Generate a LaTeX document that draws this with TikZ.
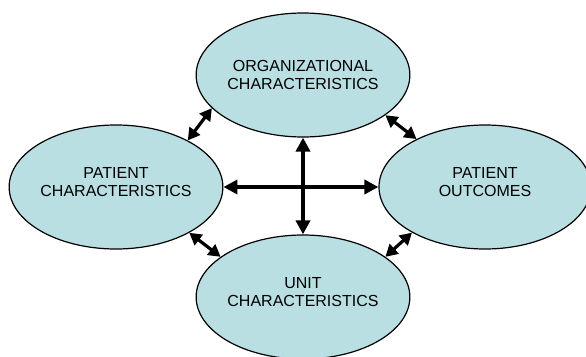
\documentclass[tikz,border=0pt]{standalone}
\usepackage{fontspec}
\setmainfont{Liberation Sans}
\usetikzlibrary{shapes.geometric,arrows.meta}
\definecolor{celeste}{RGB}{185,223,227}

\begin{document}
\begin{tikzpicture}[
			x=1pt, y=-1pt,
			ovale/.style={ellipse, draw=black, fill=celeste, line width=1.2pt, inner sep=0pt,
				minimum width=212pt, minimum height=124pt, align=center,
				font=\fontsize{16}{18}\selectfont},
			alto/.style={text depth=10pt},
			asse/.style={line width=3.6pt, {Triangle[length=14pt,width=14pt]}-{Triangle[length=14pt,width=14pt]}},
			legame/.style={line width=3.2pt, {Triangle[length=12pt,width=13pt]}-{Triangle[length=12pt,width=13pt]}},
			]
			
			\useasboundingbox (0,0) rectangle (586,356);
			
			%% ── ellissi ────────────────────────────────────────────
			\node[ovale]      (org)  at (303,75)  {ORGANIZATIONAL\\CHARACTERISTICS};
			\node[ovale,alto] (paz)  at (116,187) {PATIENT\\CHARACTERISTICS};
			\node[ovale,alto] (esi)  at (485,187) {PATIENT\\OUTCOMES};
			\node[ovale,alto] (unit) at (303,297) {UNIT\\CHARACTERISTICS};
			
			%% ── frecce centrali ────────────────────────────────────
			\draw[asse] (org) -- (unit);
			\draw[asse] (paz) -- (esi);
			
			%% ── frecce laterali ────────────────────────────────────
			\draw[legame] (paz.33.5)  -- (org.200.6);
			\draw[legame] (org.334.8) -- (esi.145);
			\draw[legame] (paz.328.7) -- (unit.154.8);
			\draw[legame] (esi.212.2) -- (unit.26.9);
			
\end{tikzpicture}
\end{document}
